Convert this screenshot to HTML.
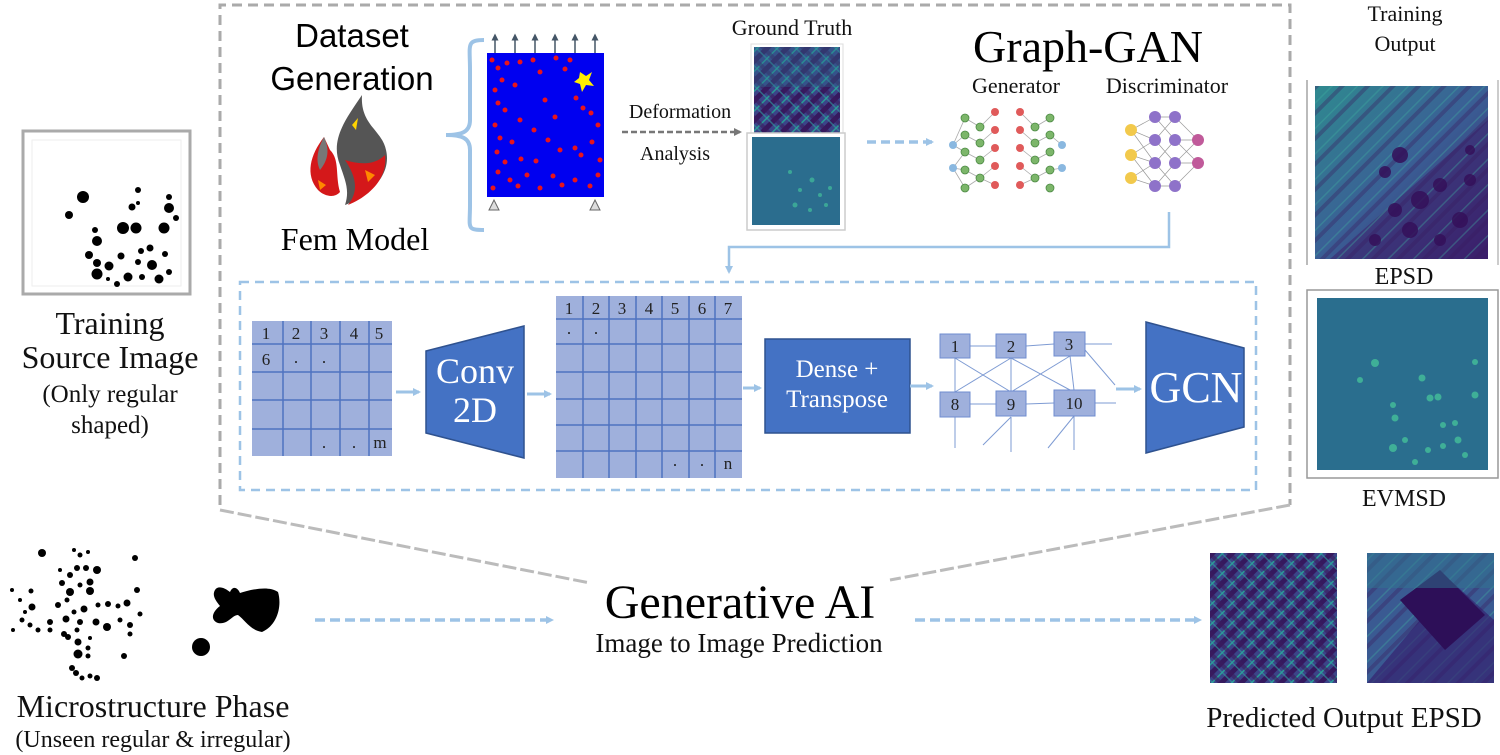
<!DOCTYPE html>
<html><head><meta charset="utf-8"><style>
html,body{margin:0;padding:0;background:#fff;}
svg{display:block;}
.serif{font-family:"Liberation Serif",serif;}
.sans{font-family:"Liberation Sans",sans-serif;}
</style></head><body>
<svg width="1500" height="755" viewBox="0 0 1500 755" xmlns="http://www.w3.org/2000/svg">
<defs>
<marker id="ab" markerWidth="8" markerHeight="8" refX="6" refY="4" orient="auto" markerUnits="userSpaceOnUse"><path d="M0,0 L8,4 L0,8 z" fill="#9dc3e6"/></marker>
<marker id="ag" markerWidth="8" markerHeight="8" refX="6" refY="4" orient="auto" markerUnits="userSpaceOnUse"><path d="M0,0 L8,4 L0,8 z" fill="#777"/></marker>
<marker id="ak" markerWidth="7" markerHeight="7" refX="3.5" refY="3.5" orient="auto" markerUnits="userSpaceOnUse"><path d="M0,0 L7,3.5 L0,7 z" fill="#445566"/></marker>
<pattern id="diag" width="14" height="14" patternUnits="userSpaceOnUse" patternTransform="rotate(45)"><rect width="14" height="14" fill="#3b4488"/><rect width="5" height="14" fill="#35195e"/><rect x="9" width="1.5" height="14" fill="#2a9c96"/></pattern>
<pattern id="diag2" width="14" height="14" patternUnits="userSpaceOnUse" patternTransform="rotate(-45)"><rect width="14" height="14" fill="none"/><rect width="4" height="14" fill="#3a1a5e" opacity="0.6"/><rect x="10" width="1.5" height="14" fill="#2fa0a0" opacity="0.6"/></pattern>
<pattern id="diag3" width="18" height="18" patternUnits="userSpaceOnUse" patternTransform="rotate(45)"><rect width="18" height="18" fill="none"/><rect width="4" height="18" fill="#3a1a5e" opacity="0.35"/><rect x="12" width="1.5" height="18" fill="#3fb0a0" opacity="0.35"/></pattern>
<linearGradient id="tg" x1="0" y1="0" x2="1" y2="1"><stop offset="0" stop-color="#2f8a90"/><stop offset="0.5" stop-color="#3a5f95"/><stop offset="1" stop-color="#3b1d6a"/></linearGradient>
</defs>

<path d="M220,505 L220,5 L1290,5 L1290,505" fill="none" stroke="#aaa" stroke-width="3" stroke-dasharray="10,6"/>
<line x1="220" y1="510" x2="590" y2="583" stroke="#bbb" stroke-width="3" stroke-dasharray="14,4"/>
<line x1="1290" y1="505" x2="890" y2="580" stroke="#bbb" stroke-width="3" stroke-dasharray="14,4"/>

<rect x="240" y="282" width="1016" height="208" fill="none" stroke="#9dc3e6" stroke-width="2.5" stroke-dasharray="9,6"/>

<rect x="23" y="131" width="167" height="163" fill="#fff" stroke="#aaa" stroke-width="3"/>
<rect x="32" y="140" width="149" height="146" fill="#fff" stroke="#eee" stroke-width="1"/>
<g fill="#000">
<circle cx="83" cy="197" r="6"/><circle cx="69" cy="215" r="4"/><circle cx="138" cy="190" r="3"/><circle cx="132" cy="207" r="3.5"/><circle cx="169" cy="197" r="3"/><circle cx="169" cy="208" r="5"/><circle cx="176" cy="218" r="3"/><circle cx="95" cy="230" r="3"/><circle cx="97" cy="241" r="5"/><circle cx="123" cy="228" r="6"/><circle cx="136" cy="228" r="5.5"/><circle cx="164" cy="228" r="5.5"/><circle cx="89" cy="255" r="4"/><circle cx="97" cy="263" r="4"/><circle cx="109" cy="266" r="4.5"/><circle cx="97" cy="274" r="5.5"/><circle cx="121" cy="256" r="3.5"/><circle cx="141" cy="251" r="3"/><circle cx="150" cy="248" r="3.5"/><circle cx="138" cy="262" r="3"/><circle cx="152" cy="265" r="5"/><circle cx="165" cy="254" r="3"/><circle cx="117" cy="284" r="3"/><circle cx="128" cy="277" r="4.5"/><circle cx="142" cy="277" r="3"/><circle cx="159" cy="279" r="4.5"/><circle cx="169" cy="272" r="3"/><circle cx="108" cy="279" r="2"/><circle cx="138" cy="203" r="2"/>
</g>
<g class="serif" font-size="32" text-anchor="middle" fill="#111">
<text x="110" y="334">Training</text>
<text x="110" y="368">Source Image</text>
<text x="110" y="402" font-size="25">(Only regular</text>
<text x="110" y="433" font-size="25">shaped)</text>
</g>

<text x="352" y="47" class="sans" font-size="33" text-anchor="middle" fill="#000">Dataset</text>
<text x="352" y="90" class="sans" font-size="33" text-anchor="middle" fill="#000">Generation</text>
<path d="M362,95 C345,120 330,140 340,165 C345,180 350,190 345,205 C370,195 392,175 386,150 C382,130 360,125 362,95 z" fill="#555"/>
<path d="M345,160 C355,175 360,190 348,205 C370,196 388,178 385,155 C375,165 360,165 345,160z" fill="#d4181a"/>
<path d="M324,137 C310,155 305,175 318,190 C325,197 335,198 340,192 C335,175 340,160 330,150z" fill="#d4181a"/>
<path d="M324,137 C318,148 315,160 320,170 C328,160 330,150 324,137z" fill="#777"/>
<polygon points="352,125 358,118 356,130" fill="#ffd400"/>
<polygon points="365,170 375,175 368,182" fill="#ff8800"/>
<polygon points="318,180 326,185 320,190" fill="#ff8800"/>
<text x="355" y="250" class="serif" font-size="32" text-anchor="middle" fill="#000">Fem Model</text>

<path d="M484,40 C466,40 470,45 470,70 L470,120 C470,132 462,135 446,135 C462,135 470,138 470,150 L470,205 C470,228 466,230 484,230" fill="none" stroke="#9dc3e6" stroke-width="4"/>

<rect x="487" y="53" width="117" height="144" fill="#0000f0"/>
<g stroke="#445566" stroke-width="1.5" marker-end="url(#ak)">
<line x1="495" y1="53" x2="495" y2="37"/><line x1="515" y1="53" x2="515" y2="37"/><line x1="535" y1="53" x2="535" y2="37"/><line x1="555" y1="53" x2="555" y2="37"/><line x1="575" y1="53" x2="575" y2="37"/><line x1="595" y1="53" x2="595" y2="37"/>
</g>
<polygon points="494,200 489,210 499,210" fill="#ddd" stroke="#666"/>
<polygon points="595,200 590,210 600,210" fill="#ddd" stroke="#666"/>
<g fill="#e8141c">
<circle cx="492" cy="60" r="2.5"/><circle cx="498" cy="68" r="2.5"/><circle cx="507" cy="63" r="2.5"/><circle cx="520" cy="62" r="2.5"/><circle cx="533" cy="60" r="2.5"/><circle cx="540" cy="72" r="2.5"/><circle cx="556" cy="58" r="2.5"/><circle cx="565" cy="69" r="2.5"/><circle cx="570" cy="60" r="2.5"/><circle cx="502" cy="80" r="2.5"/><circle cx="495" cy="90" r="2.5"/><circle cx="515" cy="85" r="2.5"/><circle cx="498" cy="103" r="2.5"/><circle cx="505" cy="110" r="2.5"/><circle cx="576" cy="98" r="2.5"/><circle cx="583" cy="108" r="2.5"/><circle cx="591" cy="113" r="2.5"/><circle cx="555" cy="117" r="2.5"/><circle cx="495" cy="125" r="2.5"/><circle cx="500" cy="138" r="2.5"/><circle cx="512" cy="142" r="2.5"/><circle cx="534" cy="130" r="2.5"/><circle cx="548" cy="140" r="2.5"/><circle cx="598" cy="125" r="2.5"/><circle cx="592" cy="142" r="2.5"/><circle cx="575" cy="148" r="2.5"/><circle cx="497" cy="152" r="2.5"/><circle cx="505" cy="162" r="2.5"/><circle cx="521" cy="159" r="2.5"/><circle cx="536" cy="161" r="2.5"/><circle cx="581" cy="155" r="2.5"/><circle cx="600" cy="160" r="2.5"/><circle cx="498" cy="172" r="2.5"/><circle cx="510" cy="180" r="2.5"/><circle cx="518" cy="186" r="2.5"/><circle cx="527" cy="175" r="2.5"/><circle cx="540" cy="188" r="2.5"/><circle cx="553" cy="176" r="2.5"/><circle cx="562" cy="185" r="2.5"/><circle cx="575" cy="180" r="2.5"/><circle cx="590" cy="186" r="2.5"/><circle cx="598" cy="175" r="2.5"/><circle cx="493" cy="188" r="2.5"/><circle cx="545" cy="100" r="2.5"/><circle cx="520" cy="120" r="2.5"/><circle cx="560" cy="150" r="2.5"/>
</g>
<polygon points="580,72 586,76 592,72 589,80 594,86 586,85 582,92 580,84 574,82 579,78" fill="#ffee00"/>

<text x="680" y="118" class="serif" font-size="20" text-anchor="middle" fill="#111">Deformation</text>
<line x1="622" y1="132" x2="740" y2="132" stroke="#777" stroke-width="2.5" stroke-dasharray="6,3" marker-end="url(#ag)"/>
<text x="675" y="160" class="serif" font-size="20" text-anchor="middle" fill="#111">Analysis</text>

<text x="792" y="35" class="serif" font-size="22" text-anchor="middle" fill="#111">Ground Truth</text>
<rect x="751" y="44" width="92" height="89" fill="#fff" stroke="#ddd"/>
<rect x="754" y="47" width="86" height="86" fill="url(#diag)"/>
<rect x="754" y="47" width="86" height="86" fill="url(#diag2)"/>
<rect x="754" y="47" width="86" height="40" fill="#2a6f90" opacity="0.35"/>
<rect x="747" y="133" width="98" height="97" fill="#fff" stroke="#ccc" stroke-width="1.5"/>
<rect x="752" y="137" width="88" height="88" fill="#2b6d8e"/>
<g fill="#3fb59a" opacity="0.8"><circle cx="790" cy="172" r="2"/><circle cx="812" cy="180" r="2.5"/><circle cx="800" cy="190" r="2"/><circle cx="820" cy="195" r="2"/><circle cx="795" cy="205" r="2.5"/><circle cx="810" cy="210" r="2"/><circle cx="826" cy="205" r="2"/><circle cx="830" cy="188" r="2"/></g>

<line x1="867" y1="142" x2="932" y2="142" stroke="#9dc3e6" stroke-width="3.5" stroke-dasharray="9,5" marker-end="url(#ab)"/>

<text x="1088" y="62" class="serif" font-size="46" text-anchor="middle" fill="#000">Graph-GAN</text>
<text x="1016" y="93" class="serif" font-size="22" text-anchor="middle" fill="#111">Generator</text>
<text x="1167" y="93" class="serif" font-size="22" text-anchor="middle" fill="#111">Discriminator</text>
<g stroke="#aaa" stroke-width="0.8">
<path d="M953,145 L965,118 M953,145 L965,135 M953,145 L965,152 M953,168 L965,152 M953,168 L965,170 M953,168 L965,188 M965,118 L980,127 M965,135 L980,143 M965,152 L980,160 M965,170 L980,178 M965,188 L980,178 M980,127 L995,112 M980,143 L995,130 M980,160 L995,148 M980,178 L995,166 M980,178 L995,185 M1020,112 L1035,127 M1020,130 L1035,143 M1020,148 L1035,160 M1020,166 L1035,178 M1020,185 L1035,178 M1035,127 L1050,118 M1035,143 L1050,135 M1035,160 L1050,152 M1035,178 L1050,170 M1050,135 L1062,145 M1050,170 L1062,168"/>
</g>
<g fill="#7cb66a" stroke="#4d8a45" stroke-width="0.8">
<circle cx="965" cy="118" r="4"/><circle cx="965" cy="135" r="4"/><circle cx="965" cy="152" r="4"/><circle cx="965" cy="170" r="4"/><circle cx="965" cy="188" r="4"/>
<circle cx="980" cy="127" r="4"/><circle cx="980" cy="143" r="4"/><circle cx="980" cy="160" r="4"/><circle cx="980" cy="178" r="4"/>
<circle cx="1035" cy="127" r="4"/><circle cx="1035" cy="143" r="4"/><circle cx="1035" cy="160" r="4"/><circle cx="1035" cy="178" r="4"/>
<circle cx="1050" cy="118" r="4"/><circle cx="1050" cy="135" r="4"/><circle cx="1050" cy="152" r="4"/><circle cx="1050" cy="170" r="4"/><circle cx="1050" cy="188" r="4"/>
</g>
<g fill="#e05a5a"><circle cx="995" cy="112" r="4"/><circle cx="995" cy="130" r="4"/><circle cx="995" cy="148" r="4"/><circle cx="995" cy="166" r="4"/><circle cx="995" cy="185" r="4"/>
<circle cx="1020" cy="112" r="4"/><circle cx="1020" cy="130" r="4"/><circle cx="1020" cy="148" r="4"/><circle cx="1020" cy="166" r="4"/><circle cx="1020" cy="185" r="4"/></g>
<g fill="#8ab8e0"><circle cx="953" cy="145" r="4"/><circle cx="953" cy="168" r="4"/><circle cx="1062" cy="145" r="4"/><circle cx="1062" cy="168" r="4"/></g>
<g stroke="#999" stroke-width="0.7">
<path d="M1131,130 L1155,117 M1131,130 L1155,140 M1131,130 L1155,163 M1131,155 L1155,140 M1131,155 L1155,163 M1131,155 L1155,186 M1131,178 L1155,163 M1131,178 L1155,186 M1155,117 L1175,117 M1155,117 L1175,140 M1155,140 L1175,117 M1155,140 L1175,163 M1155,163 L1175,140 M1155,163 L1175,186 M1155,186 L1175,163 M1155,186 L1175,186 M1175,117 L1198,140 M1175,140 L1198,140 M1175,163 L1198,163 M1175,186 L1198,163 M1175,140 L1198,163 M1175,163 L1198,140"/>
</g>
<g fill="#f2c94c"><circle cx="1131" cy="130" r="6"/><circle cx="1131" cy="155" r="6"/><circle cx="1131" cy="178" r="6"/></g>
<g fill="#8e72c9"><circle cx="1155" cy="117" r="6"/><circle cx="1155" cy="140" r="6"/><circle cx="1155" cy="163" r="6"/><circle cx="1155" cy="186" r="6"/><circle cx="1175" cy="117" r="6"/><circle cx="1175" cy="140" r="6"/><circle cx="1175" cy="163" r="6"/><circle cx="1175" cy="186" r="6"/></g>
<g fill="#c05a9a"><circle cx="1198" cy="140" r="6"/><circle cx="1198" cy="163" r="6"/></g>

<path d="M1169,212 L1169,247 L729,247 L729,272" fill="none" stroke="#9dc3e6" stroke-width="2.5" marker-end="url(#ab)"/>

<rect x="252" y="321" width="140" height="135" fill="#9fb0dc"/>
<g stroke="#4f72c0" stroke-width="1.5">
<line x1="252" y1="344" x2="392" y2="344"/><line x1="252" y1="372" x2="392" y2="372"/><line x1="252" y1="400" x2="392" y2="400"/><line x1="252" y1="429" x2="392" y2="429"/>
<line x1="283" y1="321" x2="283" y2="456"/><line x1="311" y1="321" x2="311" y2="456"/><line x1="340" y1="321" x2="340" y2="456"/><line x1="369" y1="321" x2="369" y2="456"/>
</g>
<g class="serif" font-size="17" fill="#222" text-anchor="middle">
<text x="266" y="339">1</text><text x="296" y="339">2</text><text x="324" y="339">3</text><text x="354" y="339">4</text><text x="379" y="339">5</text>
<text x="266" y="365">6</text><text x="296" y="363">.</text><text x="324" y="363">.</text>
<text x="324" y="448">.</text><text x="354" y="448">.</text><text x="380" y="448">m</text>
</g>

<polygon points="426,351 524,326 524,458 426,433" fill="#4472c4" stroke="#2f528f" stroke-width="1.5"/>
<text x="475" y="383" class="serif" font-size="36" fill="#fff" text-anchor="middle">Conv</text>
<text x="475" y="422" class="serif" font-size="36" fill="#fff" text-anchor="middle">2D</text>

<rect x="556" y="296" width="186" height="182" fill="#9fb0dc"/>
<g stroke="#4f72c0" stroke-width="1.5">
<line x1="556" y1="319" x2="742" y2="319"/><line x1="556" y1="344" x2="742" y2="344"/><line x1="556" y1="372" x2="742" y2="372"/><line x1="556" y1="399" x2="742" y2="399"/><line x1="556" y1="425" x2="742" y2="425"/><line x1="556" y1="451" x2="742" y2="451"/>
<line x1="583" y1="296" x2="583" y2="478"/><line x1="609" y1="296" x2="609" y2="478"/><line x1="636" y1="296" x2="636" y2="478"/><line x1="662" y1="296" x2="662" y2="478"/><line x1="689" y1="296" x2="689" y2="478"/><line x1="715" y1="296" x2="715" y2="478"/>
</g>
<g class="serif" font-size="17" fill="#222" text-anchor="middle">
<text x="569" y="314">1</text><text x="596" y="314">2</text><text x="622" y="314">3</text><text x="649" y="314">4</text><text x="675" y="314">5</text><text x="702" y="314">6</text><text x="728" y="314">7</text>
<text x="569" y="334">.</text><text x="596" y="334">.</text>
<text x="675" y="466">.</text><text x="702" y="466">.</text><text x="728" y="469">n</text>
</g>

<rect x="765" y="339" width="145" height="94" fill="#4472c4" stroke="#2f528f" stroke-width="1.5"/>
<text x="837" y="377" class="serif" font-size="25" fill="#fff" text-anchor="middle">Dense +</text>
<text x="837" y="407" class="serif" font-size="25" fill="#fff" text-anchor="middle">Transpose</text>

<g stroke="#7e9bd3" stroke-width="1">
<line x1="970" y1="346" x2="996" y2="346"/><line x1="1026" y1="346" x2="1054" y2="344"/><line x1="1085" y1="344" x2="1112" y2="344"/>
<line x1="970" y1="404" x2="996" y2="404"/><line x1="1026" y1="404" x2="1054" y2="403"/><line x1="1095" y1="403" x2="1116" y2="403"/>
<line x1="955" y1="358" x2="1011" y2="392"/><line x1="1011" y1="358" x2="955" y2="392"/><line x1="1011" y1="358" x2="1070" y2="390"/><line x1="1070" y1="356" x2="1011" y2="392"/>
<line x1="955" y1="358" x2="955" y2="392"/><line x1="1011" y1="358" x2="1011" y2="392"/><line x1="1070" y1="356" x2="1074" y2="390"/>
<line x1="1085" y1="350" x2="1115" y2="385"/>
<line x1="955" y1="417" x2="955" y2="448"/><line x1="1011" y1="417" x2="1011" y2="452"/><line x1="1011" y1="417" x2="983" y2="445"/><line x1="1074" y1="416" x2="1048" y2="448"/><line x1="1074" y1="416" x2="1074" y2="450"/>
</g>
<g fill="#9fb0dc" stroke="#6f8ccf" stroke-width="1">
<rect x="940" y="334" width="30" height="24"/><rect x="996" y="334" width="30" height="24"/><rect x="1054" y="332" width="31" height="24"/>
<rect x="940" y="392" width="30" height="25"/><rect x="996" y="391" width="30" height="25"/><rect x="1054" y="390" width="41" height="26"/>
</g>
<g class="serif" font-size="17" fill="#222" text-anchor="middle">
<text x="955" y="352">1</text><text x="1011" y="352">2</text><text x="1069" y="350">3</text>
<text x="955" y="410">8</text><text x="1011" y="410">9</text><text x="1074" y="409">10</text>
</g>

<polygon points="1146,322 1244,348 1244,427 1146,453" fill="#4472c4" stroke="#2f528f" stroke-width="1.5"/>
<text x="1196" y="402" class="serif" font-size="44" fill="#fff" text-anchor="middle">GCN</text>

<g stroke="#9dc3e6" stroke-width="3" marker-end="url(#ab)">
<line x1="396" y1="392" x2="419" y2="392"/>
<line x1="527" y1="394" x2="550" y2="394"/>
<line x1="743" y1="388" x2="760" y2="388"/>
<line x1="910" y1="386" x2="932" y2="386"/>
<line x1="1116" y1="389" x2="1140" y2="389"/>
</g>

<text x="1405" y="21" class="serif" font-size="22" text-anchor="middle" fill="#111">Training</text>
<text x="1405" y="51" class="serif" font-size="22" text-anchor="middle" fill="#111">Output</text>
<line x1="1307" y1="80" x2="1307" y2="265" stroke="#bbb" stroke-width="2"/>
<line x1="1498" y1="80" x2="1498" y2="265" stroke="#ccc" stroke-width="2"/>
<rect x="1315" y="86" width="173" height="173" fill="url(#tg)"/>
<polygon points="1330,259 1488,120 1488,259" fill="#3b1d6a" opacity="0.5"/>
<rect x="1315" y="86" width="173" height="173" fill="url(#diag3)"/>
<g fill="#34105a" opacity="0.85"><circle cx="1400" cy="155" r="8"/><circle cx="1385" cy="172" r="6"/><circle cx="1420" cy="200" r="9"/><circle cx="1440" cy="185" r="7"/><circle cx="1460" cy="220" r="8"/><circle cx="1410" cy="230" r="8"/><circle cx="1440" cy="240" r="6"/><circle cx="1470" cy="180" r="6"/><circle cx="1395" cy="210" r="7"/><circle cx="1470" cy="150" r="5"/><circle cx="1375" cy="240" r="6"/></g>
<text x="1404" y="284" class="serif" font-size="24" text-anchor="middle" fill="#111">EPSD</text>
<rect x="1307" y="290" width="191" height="188" fill="#fff" stroke="#999" stroke-width="1.5"/>
<rect x="1317" y="298" width="171" height="172" fill="#2a6e8e"/>
<g fill="#45c09a" opacity="0.8"><circle cx="1375" cy="363" r="4"/><circle cx="1360" cy="380" r="3"/><circle cx="1422" cy="378" r="3.5"/><circle cx="1430" cy="398" r="3.5"/><circle cx="1438" cy="397" r="3.5"/><circle cx="1475" cy="362" r="3"/><circle cx="1475" cy="395" r="3.5"/><circle cx="1393" cy="405" r="3"/><circle cx="1395" cy="418" r="3.5"/><circle cx="1443" cy="425" r="3"/><circle cx="1455" cy="423" r="3"/><circle cx="1458" cy="440" r="3.5"/><circle cx="1393" cy="448" r="4"/><circle cx="1405" cy="440" r="3"/><circle cx="1428" cy="450" r="3"/><circle cx="1415" cy="462" r="3"/><circle cx="1465" cy="455" r="3"/><circle cx="1443" cy="446" r="3"/></g>
<text x="1404" y="506" class="serif" font-size="24" text-anchor="middle" fill="#111">EVMSD</text>

<text x="740" y="618" class="serif" font-size="48" text-anchor="middle" fill="#000">Generative AI</text>
<text x="739" y="652" class="serif" font-size="27" text-anchor="middle" fill="#111">Image to Image Prediction</text>
<line x1="315" y1="620" x2="552" y2="620" stroke="#9dc3e6" stroke-width="3.5" stroke-dasharray="10,5" marker-end="url(#ab)"/>
<line x1="915" y1="620" x2="1200" y2="620" stroke="#9dc3e6" stroke-width="3.5" stroke-dasharray="10,5" marker-end="url(#ab)"/>

<g fill="#000">
<circle cx="42" cy="553" r="4"/><circle cx="74" cy="550" r="2"/><circle cx="80" cy="555" r="2.5"/><circle cx="88" cy="552" r="2"/><circle cx="135" cy="558" r="3"/>
<circle cx="60" cy="570" r="2"/><circle cx="77" cy="568" r="3"/><circle cx="86" cy="568" r="3"/><circle cx="97" cy="570" r="4"/>
<circle cx="70" cy="575" r="3"/><circle cx="62" cy="583" r="3"/><circle cx="90" cy="582" r="3.5"/><circle cx="80" cy="585" r="2.5"/><circle cx="70" cy="592" r="4"/><circle cx="90" cy="591" r="4"/><circle cx="137" cy="590" r="3"/>
<circle cx="12" cy="590" r="2"/><circle cx="31" cy="591" r="2.5"/><circle cx="20" cy="600" r="2"/><circle cx="32" cy="607" r="3.5"/><circle cx="25" cy="612" r="2"/>
<circle cx="58" cy="605" r="3"/><circle cx="67" cy="600" r="2.5"/><circle cx="84" cy="609" r="3.5"/><circle cx="74" cy="612" r="2.5"/><circle cx="98" cy="605" r="2.5"/><circle cx="108" cy="604" r="3"/><circle cx="118" cy="606" r="2.5"/><circle cx="127" cy="603" r="3.5"/>
<circle cx="22" cy="620" r="2.5"/><circle cx="30" cy="625" r="2.5"/><circle cx="50" cy="622" r="3"/><circle cx="66" cy="619" r="3.5"/><circle cx="80" cy="622" r="3"/><circle cx="96" cy="622" r="3.5"/><circle cx="107" cy="627" r="4"/><circle cx="120" cy="620" r="2.5"/><circle cx="130" cy="625" r="3"/><circle cx="140" cy="614" r="2.5"/>
<circle cx="13" cy="630" r="2"/><circle cx="38" cy="630" r="2.5"/><circle cx="50" cy="630" r="2.5"/><circle cx="64" cy="634" r="3"/><circle cx="77" cy="630" r="2.5"/><circle cx="90" cy="638" r="2"/><circle cx="130" cy="634" r="2.5"/>
<circle cx="68" cy="637" r="3"/><circle cx="78" cy="642" r="3.5"/><circle cx="88" cy="648" r="2.5"/><circle cx="78" cy="654" r="4.5"/><circle cx="88" cy="656" r="2.5"/><circle cx="124" cy="656" r="3"/>
<circle cx="72" cy="668" r="3"/><circle cx="76" cy="673" r="3"/><circle cx="82" cy="678" r="2.5"/><circle cx="90" cy="676" r="2.5"/><circle cx="97" cy="678" r="3"/>
</g>
<path d="M215,590 C218,585 225,588 230,592 C233,585 238,588 240,593 C250,590 268,585 278,592 C282,605 278,625 262,632 C250,630 245,620 238,615 C232,615 228,625 218,623 C210,620 212,612 220,606 C215,600 212,595 215,590z" fill="#000"/>
<circle cx="201" cy="647" r="9" fill="#000"/>
<text x="153" y="717" class="serif" font-size="32" text-anchor="middle" fill="#111">Microstructure Phase</text>
<text x="153" y="747" class="serif" font-size="24" text-anchor="middle" fill="#111">(Unseen regular &amp; irregular)</text>

<rect x="1210" y="553" width="127" height="130" fill="#36307a"/>
<rect x="1210" y="553" width="127" height="130" fill="url(#diag)"/>
<rect x="1210" y="553" width="127" height="130" fill="url(#diag2)"/>
<rect x="1367" y="553" width="127" height="130" fill="#3a5a92"/>
<rect x="1367" y="553" width="127" height="130" fill="url(#diag3)"/>
<polygon points="1367,683 1420,620 1450,580 1494,620 1494,683" fill="#34196a" opacity="0.6"/>
<polygon points="1400,600 1440,570 1485,615 1445,650" fill="#2d0f58"/>
<rect x="1367" y="553" width="127" height="35" fill="#2f7590" opacity="0.5"/>
<text x="1344" y="727" class="serif" font-size="29" text-anchor="middle" fill="#111">Predicted Output EPSD</text>
</svg>
</body></html>
